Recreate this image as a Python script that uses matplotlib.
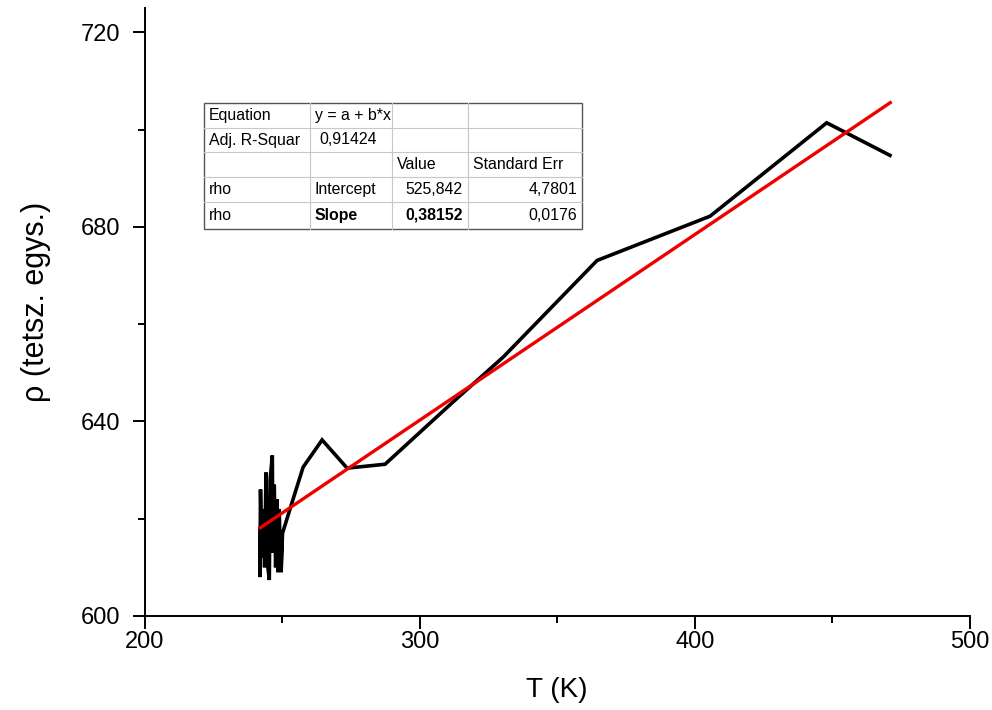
import matplotlib
matplotlib.use("Agg")
import matplotlib.pyplot as plt
import numpy as np
from matplotlib.lines import Line2D
from matplotlib.patches import Rectangle

plt.rcParams['font.family'] = ['Liberation Sans', 'DejaVu Sans']

# Measured data (T in K, rho in arbitrary units)
T = [242.0, 241.8, 242.0, 242.5, 243.0, 243.5, 244.0, 244.5, 245.2, 245.5,
     246.3, 246.5, 247.0, 247.5, 248.0, 248.3, 248.8, 249.2, 249.7, 249.5,
     250.0, 253.5, 257.5, 264.4, 273.5, 287.3, 312.0, 330.2, 364.4, 405.5,
     447.9, 470.9]
rho = [618.0, 608.0, 626.0, 612.0, 622.0, 610.0, 629.5, 611.0, 607.4, 628.0,
       633.0, 613.0, 627.0, 610.0, 624.0, 609.0, 622.0, 612.0, 617.0, 609.0,
       617.0, 623.4, 630.6, 636.2, 630.4, 631.2, 644.0, 653.2, 673.1, 682.2,
       701.4, 694.7]

# Linear fit parameters
intercept = 525.842
slope = 0.38152
fit_T = [242.0, 471.0]

table_rows = [
    ["Equation", "y = a + b*x", "", ""],
    ["Adj. R-Squar", "0,91424", "", ""],
    ["", "", "Value", "Standard Err"],
    ["rho", "Intercept", "525,842", "4,7801"],
    ["rho", "Slope", "0,38152", "0,0176"],
]

W, H = 992, 710
fig = plt.figure(figsize=(W / 100, H / 100), dpi=100)
ax = fig.add_axes([145 / W, 1 - 616 / H, (970 - 145) / W, (616 - 8) / H])

ax.plot(T, rho, color='black', lw=2.6, solid_joinstyle='miter', zorder=2)
fit_y = [intercept + slope * t for t in fit_T]
ax.plot(fit_T, fit_y, color='#ee0000', lw=2.4, zorder=3)

ax.set_xlim(200, 500)
ax.set_ylim(600, 725)
ax.set_xticks([200, 300, 400, 500])
ax.set_xticks([250, 350, 450], minor=True)
ax.set_yticks([600, 640, 680, 720])
ax.set_yticks([620, 660, 700], minor=True)
for s in ['top', 'right']:
    ax.spines[s].set_visible(False)
for s in ['left', 'bottom']:
    ax.spines[s].set_linewidth(1.4)
ax.tick_params(which='major', direction='out', length=9, width=1.4, labelsize=17)
ax.tick_params(which='minor', direction='out', length=5, width=1.4)
ax.tick_params(axis='y', which='major', pad=9)
ax.tick_params(axis='x', which='major', pad=2)
ax.set_xlabel('T (K)', fontsize=20)
ax.set_ylabel('ρ (tetsz. egys.)', fontsize=22)
ax.xaxis.set_label_coords((557 - 145) / (970 - 145), -(690 - 616) / (616 - 8))
ax.yaxis.set_label_coords(-(145 - 36) / (970 - 145), (616 - 302) / (616 - 8))
ax.xaxis.label.set_va('center')
ax.yaxis.label.set_va('center')

# Fit result table (figure pixel coordinates)
col_x = [204, 310, 392, 468, 582]
row_y = [103, 128, 152, 177, 202, 229]

def fx(px):
    return px / W

def fy(py):
    return 1 - py / H

fig.patches.append(Rectangle((fx(col_x[0]), fy(row_y[-1])),
                             fx(col_x[-1]) - fx(col_x[0]), fy(row_y[0]) - fy(row_y[-1]),
                             transform=fig.transFigure, facecolor='white',
                             edgecolor='#555555', lw=1.0, zorder=5))
for yy in row_y[1:-1]:
    fig.lines.append(Line2D([fx(col_x[0]), fx(col_x[-1])], [fy(yy), fy(yy)],
                            transform=fig.transFigure, color='#c8c8c8', lw=0.8, zorder=6))
for xx in col_x[1:-1]:
    fig.lines.append(Line2D([fx(xx), fx(xx)], [fy(row_y[0]), fy(row_y[-1])],
                            transform=fig.transFigure, color='#c8c8c8', lw=0.8, zorder=6))

for r, row in enumerate(table_rows):
    yc = fy((row_y[r] + row_y[r + 1]) / 2)
    for c, txt in enumerate(row):
        if not txt:
            continue
        bold = (r == 4 and c in (1, 2))
        right = (c >= 2 and r >= 3)
        if right:
            x = fx(col_x[c + 1] - 5)
            ha = 'right'
        else:
            pad = 9 if (r == 1 and c == 1) else 5
            x = fx(col_x[c] + pad)
            ha = 'left'
        fig.text(x, yc, txt, ha=ha, va='center', fontsize=11.4,
                 fontweight='bold' if bold else 'normal', zorder=7)

fig.savefig('out.png', dpi=100)
